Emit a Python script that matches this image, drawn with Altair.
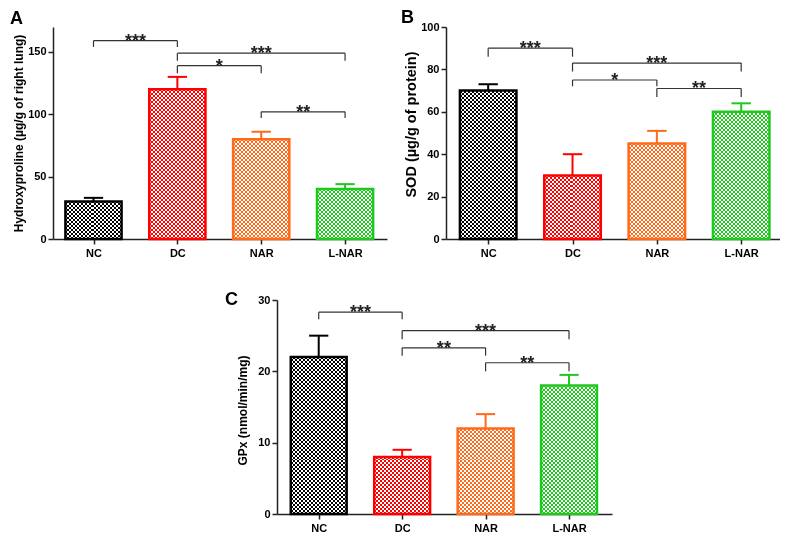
import json
import altair as alt
import pandas as pd

# ---------------- data ----------------
categories = ["NC", "DC", "NAR", "L-NAR"]
bar_colors = ["#000000", "#FF0000", "#FF6A1A", "#1EC81E"]

hyp_mean = [30, 120, 80, 40]
hyp_err = [3, 10, 6, 4]
sod_mean = [70, 30, 45, 60]
sod_err = [3, 10, 6, 4]
gpx_mean = [22, 8, 12, 18]
gpx_err = [3, 1, 2, 1.5]

sig_left = ["NC", "DC", "DC", "NAR"]
sig_right = ["DC", "L-NAR", "NAR", "L-NAR"]
hyp_sig_y = [159, 149, 139, 102]
hyp_sig_low = [154, 143, 133, 97]
hyp_sig_lab = ["***", "***", "*", "**"]
sod_sig_y = [90, 83, 75, 71]
sod_sig_low = [86, 79, 72, 67]
sod_sig_lab = ["***", "***", "*", "**"]
gpx_sig_y = [28.3, 25.7, 23.3, 21.2]
gpx_sig_low = [27.3, 24.5, 22.2, 20.0]
gpx_sig_lab = ["***", "***", "**", "**"]

FONT = "Liberation Sans"
BW = 0.335      # half bar width in category units
CAP = 0.115     # half cap width in category units
AX = "#222222"


def stripes(n, along_x):
    stops = []
    for k in range(2 * n):
        c = "#000000" if k % 2 == 0 else "#ffffff"
        stops.append({"offset": k / (2 * n), "color": c})
        stops.append({"offset": (k + 1) / (2 * n), "color": c})
    g = {"gradient": "linear", "stops": stops, "x1": 0, "y1": 0}
    if along_x:
        g.update({"x2": 1, "y2": 0})
    else:
        g.update({"x2": 0, "y2": 1})
    return g


def panel(letter, lpos, means, errs, sy, slow, slab, ymax, yticks, ytitle,
          xdom, width, height, title_size, title_y):
    n = len(categories)
    df = pd.DataFrame({"cat": categories, "idx": list(range(n)), "mean": means,
                       "err": errs, "color": bar_colors})
    df["top"] = df["mean"] + df["err"]
    df["lo"] = df["idx"] - BW
    df["hi"] = df["idx"] + BW
    df["lo2"] = df["idx"] - BW - 0.012
    df["hi2"] = df["idx"] + BW + 0.012
    df["cl"] = df["idx"] - CAP
    df["cr"] = df["idx"] + CAP
    df["zero"] = 0
    df["ymax"] = ymax

    sig = pd.DataFrame({"xl": [categories.index(c) for c in sig_left],
                        "xr": [categories.index(c) for c in sig_right],
                        "y": sy, "ylow": slow, "label": slab})
    sig["xm"] = (sig["xl"] + sig["xr"]) / 2

    xscale = alt.Scale(domain=xdom, nice=False, zero=False)
    yscale = alt.Scale(domain=[0, ymax], nice=False, zero=True)
    xaxis = alt.Axis(values=list(range(n)),
                     labelExpr=json.dumps(categories) + "[datum.value]",
                     title=None, grid=False, domainColor=AX, domainWidth=1.5,
                     tickColor=AX, tickWidth=1.5, tickSize=5, labelFont=FONT,
                     labelFontWeight="bold", labelFontSize=11, labelColor="black",
                     labelPadding=3)
    yaxis = alt.Axis(values=yticks, title=ytitle, grid=False, domainColor=AX,
                     domainWidth=1.5, tickColor=AX, tickWidth=1.5, tickSize=5,
                     labelFont=FONT, labelFontWeight="bold", labelFontSize=11,
                     labelColor="black", labelPadding=2, titleFont=FONT,
                     titleFontWeight="bold", titleFontSize=title_size,
                     titleColor="black", titleX=-35, titleY=title_y,
                     titleBaseline="middle")

    def X(f):
        return alt.X(f"{f}:Q", scale=xscale, axis=xaxis)

    def Y(f):
        return alt.Y(f"{f}:Q", scale=yscale, axis=yaxis)

    step = width / (xdom[1] - xdom[0])
    nv = max(1, round(2 * BW * step / 4))
    nh = max(1, round(height / 4))
    vgrad = stripes(nv, True)
    hgrad = stripes(nh, False)

    base = alt.Chart(df)
    l1 = base.mark_rect(fill=hgrad).encode(x=X("lo"), x2=alt.X2("hi"),
                                          y=Y("zero"), y2=alt.Y2("ymax"))
    l2 = base.mark_rect(fill=vgrad, blend="difference").encode(
        x=X("lo"), x2=alt.X2("hi"), y=Y("zero"), y2=alt.Y2("mean"))
    l3 = base.mark_rect(fill="#ffffff").encode(
        x=X("lo2"), x2=alt.X2("hi2"), y=Y("mean"), y2=alt.Y2("ymax"))
    l4 = base.mark_rect(blend="screen").encode(
        x=X("lo"), x2=alt.X2("hi"), y=Y("zero"), y2=alt.Y2("mean"),
        fill=alt.Fill("color:N", scale=None))
    l5 = base.mark_rect(fillOpacity=0, strokeWidth=2.5).encode(
        x=X("lo"), x2=alt.X2("hi"), y=Y("zero"), y2=alt.Y2("mean"),
        stroke=alt.Stroke("color:N", scale=None))
    e1 = base.mark_rule(strokeWidth=2).encode(
        x=X("idx"), y=Y("mean"), y2=alt.Y2("top"),
        color=alt.Color("color:N", scale=None))
    e2 = base.mark_rule(strokeWidth=2).encode(
        x=X("cl"), x2=alt.X2("cr"), y=Y("top"),
        color=alt.Color("color:N", scale=None))

    sb = alt.Chart(sig)
    b1 = sb.mark_rule(color="#333333", strokeWidth=1.2).encode(
        x=X("xl"), x2=alt.X2("xr"), y=Y("y"))
    b2 = sb.mark_rule(color="#333333", strokeWidth=1.2).encode(
        x=X("xl"), y=Y("ylow"), y2=alt.Y2("y"))
    b3 = sb.mark_rule(color="#333333", strokeWidth=1.2).encode(
        x=X("xr"), y=Y("ylow"), y2=alt.Y2("y"))
    bt = sb.mark_text(font=FONT, fontSize=18, fontWeight="bold", color="#222222",
                      baseline="alphabetic", dy=6).encode(
        x=X("xm"), y=Y("y"), text="label:N")

    lt = alt.Chart(pd.DataFrame({"t": [letter]})).mark_text(
        align="left", baseline="top", font=FONT, fontSize=18, fontWeight="bold",
        color="black").encode(text="t:N", x=alt.value(lpos[0]), y=alt.value(lpos[1]))

    return alt.layer(l1, l2, l3, l4, l5, e1, e2, b1, b2, b3, bt, lt).properties(
        width=width, height=height)


pa = panel("A", (-43, -17), hyp_mean, hyp_err, hyp_sig_y, hyp_sig_low, hyp_sig_lab,
           170, [0, 50, 100, 150], "Hydroxyproline (µg/g of right lung)",
           [-0.483, 3.5], 334, 212, 12, 106)
pb = panel("B", (-45, -18), sod_mean, sod_err, sod_sig_y, sod_sig_low, sod_sig_lab,
           100, [0, 20, 40, 60, 80, 100], "SOD (µg/g of protein)",
           [-0.5, 3.46], 334, 212, 14.5, 97)
pc = panel("C", (-52, -9), gpx_mean, gpx_err, gpx_sig_y, gpx_sig_low, gpx_sig_lab,
           30, [0, 10, 20, 30], "GPx (nmol/min/mg)",
           [-0.5, 3.515], 335, 214, 12, 110)

spacer = alt.Chart(pd.DataFrame({"s": [0]})).mark_point(opacity=0).properties(
    width=162, height=10)

chart = alt.vconcat(
    alt.hconcat(pa, pb, spacing=14),
    alt.hconcat(spacer, pc, spacing=10),
    spacing=33,
).properties(
    padding={"left": 2, "top": 1, "right": 0, "bottom": 0},
    background="white",
).configure_view(strokeWidth=0)

chart.save("out.html", embed_options={"renderer": "svg", "actions": False})
